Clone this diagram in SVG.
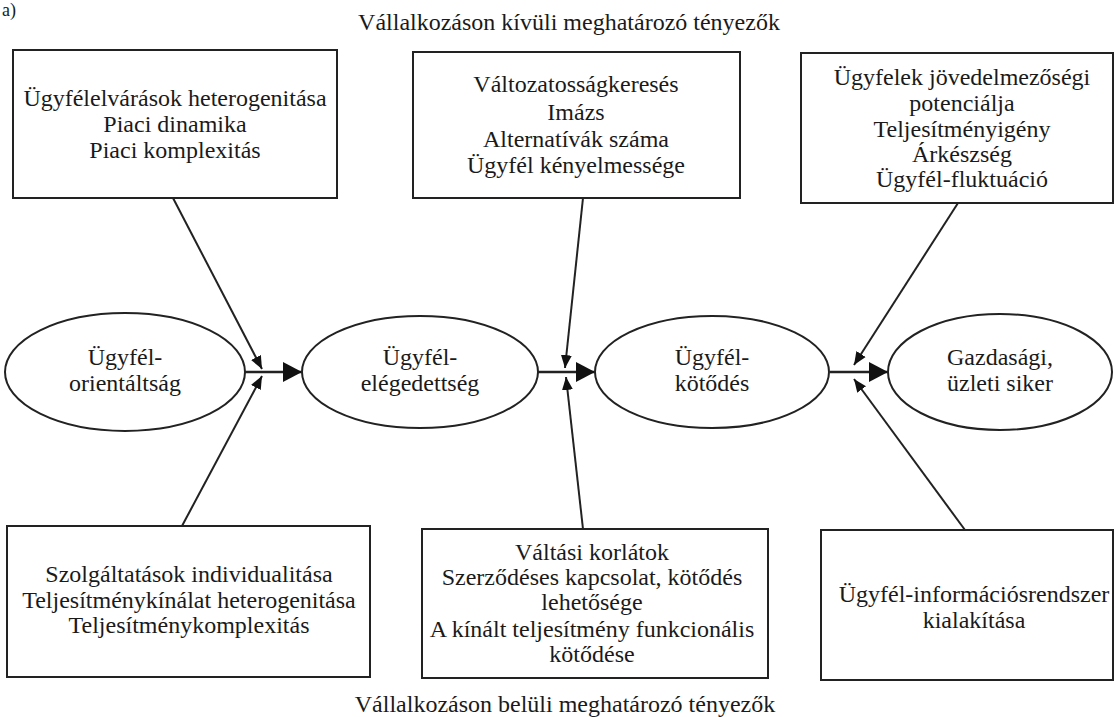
<svg xmlns="http://www.w3.org/2000/svg" width="1118" height="717" viewBox="0 0 1118 717">
<style>
  .t { font-family: "Liberation Serif", "Times New Roman", serif; font-size: 24px; fill: #1a1a1a; text-anchor: middle; }
  .box { fill: #ffffff; stroke: #222222; stroke-width: 2; }
  .ell { fill: #ffffff; stroke: #222222; stroke-width: 2; }
  .con { fill: none; stroke: #222222; stroke-width: 2; }
  .big { marker-end: url(#bigArrow); stroke-width: 2.5; }
  .small { marker-end: url(#smallArrow); }
</style>
<defs>
  <marker id="bigArrow" markerUnits="userSpaceOnUse" markerWidth="20" markerHeight="22" viewBox="0 0 20 22" refX="19" refY="11" orient="auto">
    <polygon points="0,1 19,11 0,21" fill="#111111"/>
  </marker>
  <marker id="smallArrow" markerUnits="userSpaceOnUse" markerWidth="14" markerHeight="12" viewBox="0 0 14 12" refX="13" refY="6" orient="auto">
    <polygon points="0,0.5 13,6 0,11.5" fill="#111111"/>
  </marker>
</defs>
<rect width="1118" height="717" fill="#ffffff"/>

<text class="t" x="2" y="16" style="text-anchor:start;font-size:18px">a)</text>
<text class="t" x="569" y="30">Vállalkozáson kívüli meghatározó tényezők</text>
<text class="t" x="565" y="712">Vállalkozáson belüli meghatározó tényezők</text>

<g id="connectors">
  <path class="con small" d="M173,198 L262,369"/>
  <path class="con small" d="M182,526 L262,376"/>
  <path class="con small" d="M583,198 L565,368"/>
  <path class="con small" d="M583,529 L566,377"/>
  <path class="con small" d="M958,203 L854,365"/>
  <path class="con small" d="M965,530 L854,379"/>
  <path class="con big" d="M245,372 L302,372"/>
  <path class="con big" d="M538,372 L595,372"/>
  <path class="con big" d="M830,372 L888,372"/>
</g>

<g id="box-external-1">
  <rect class="box" x="13" y="50" width="324" height="148"/>
  <text class="t" x="175" y="106">Ügyfélelvárások heterogenitása</text>
  <text class="t" x="175" y="132">Piaci dinamika</text>
  <text class="t" x="175" y="158">Piaci komplexitás</text>
</g>

<g id="box-external-2">
  <rect class="box" x="413" y="52" width="327" height="146"/>
  <text class="t" x="576" y="92">Változatosságkeresés</text>
  <text class="t" x="576" y="120">Imázs</text>
  <text class="t" x="576" y="147">Alternatívák száma</text>
  <text class="t" x="576" y="173">Ügyfél kényelmessége</text>
</g>

<g id="box-external-3">
  <rect class="box" x="801" y="53" width="312" height="150"/>
  <text class="t" x="962" y="85">Ügyfelek jövedelmezőségi</text>
  <text class="t" x="962" y="111">potenciálja</text>
  <text class="t" x="962" y="137">Teljesítményigény</text>
  <text class="t" x="962" y="162">Árkészség</text>
  <text class="t" x="962" y="187">Ügyfél-fluktuáció</text>
</g>

<g id="node-orientaltsag">
  <ellipse class="ell" cx="125" cy="372" rx="120" ry="59"/>
  <text class="t" x="125" y="365">Ügyfél-</text>
  <text class="t" x="125" y="391">orientáltság</text>
</g>

<g id="node-elegedettseg">
  <ellipse class="ell" cx="420" cy="372" rx="118" ry="56"/>
  <text class="t" x="420" y="365">Ügyfél-</text>
  <text class="t" x="420" y="391">elégedettség</text>
</g>

<g id="node-kotodes">
  <ellipse class="ell" cx="712" cy="372" rx="117" ry="56"/>
  <text class="t" x="712" y="365">Ügyfél-</text>
  <text class="t" x="712" y="391">kötődés</text>
</g>

<g id="node-siker">
  <ellipse class="ell" cx="1000" cy="372" rx="112" ry="58"/>
  <text class="t" x="1000" y="365">Gazdasági,</text>
  <text class="t" x="1000" y="391">üzleti siker</text>
</g>

<g id="box-internal-1">
  <rect class="box" x="7" y="526" width="363" height="151"/>
  <text class="t" x="189" y="582">Szolgáltatások individualitása</text>
  <text class="t" x="189" y="608">Teljesítménykínálat heterogenitása</text>
  <text class="t" x="189" y="633">Teljesítménykomplexitás</text>
</g>

<g id="box-internal-2">
  <rect class="box" x="422" y="529" width="346" height="149"/>
  <text class="t" x="592" y="560">Váltási korlátok</text>
  <text class="t" x="592" y="585">Szerződéses kapcsolat, kötődés</text>
  <text class="t" x="592" y="610">lehetősége</text>
  <text class="t" x="592" y="637">A kínált teljesítmény funkcionális</text>
  <text class="t" x="592" y="662">kötődése</text>
</g>

<g id="box-internal-3">
  <rect class="box" x="821" y="530" width="292" height="150"/>
  <text class="t" x="974" y="602">Ügyfél-információsrendszer</text>
  <text class="t" x="974" y="628">kialakítása</text>
</g>
</svg>
